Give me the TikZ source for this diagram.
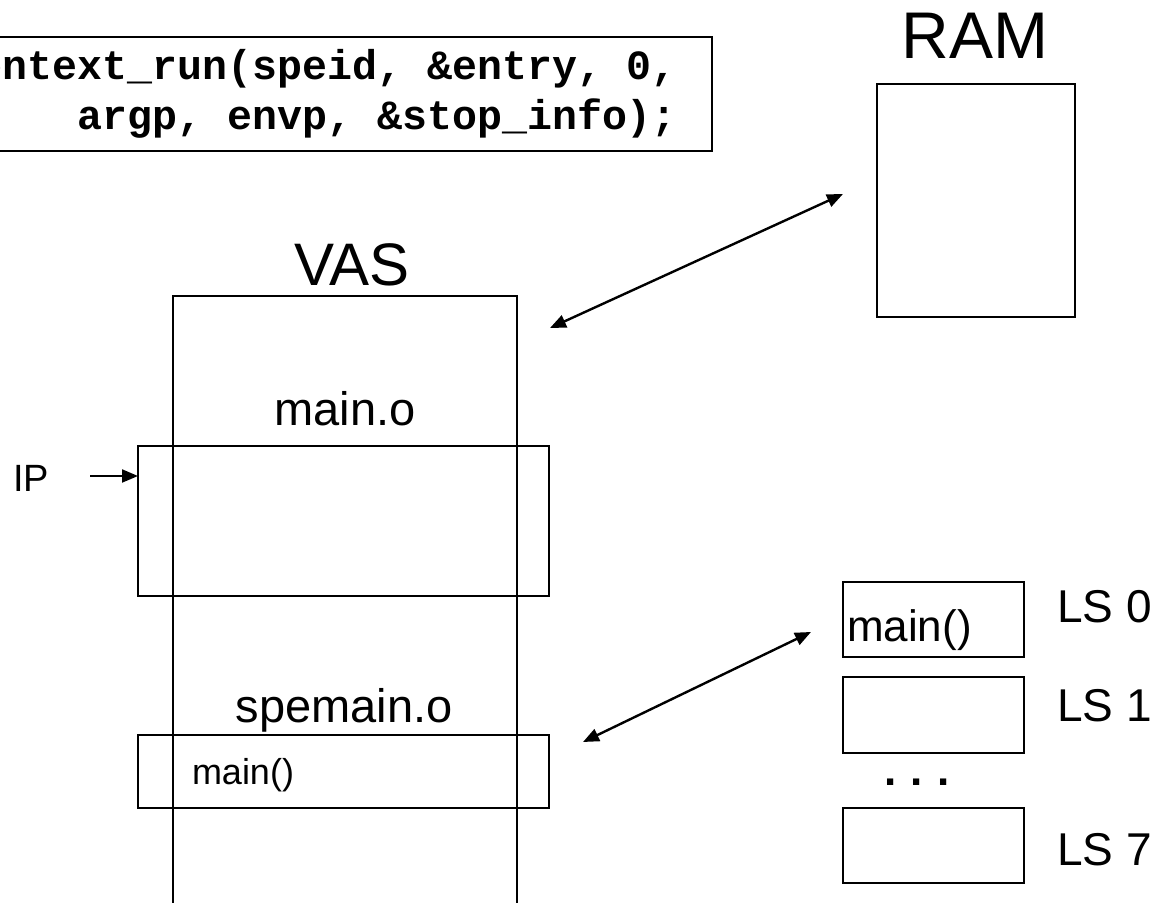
\documentclass[tikz,border=0pt]{standalone}
\usepackage{fontspec}
\setmainfont{Liberation Sans}
\setmonofont{Liberation Mono}
\usetikzlibrary{arrows.meta}

\tikzset{
  box/.style={draw,line width=1pt,inner sep=0pt,outer sep=0pt},
  lbl/.style={inner sep=0pt,outer sep=0pt},
  link/.style={line width=1.2pt,{Triangle[length=8pt,width=6.5pt]}-{Triangle[length=8pt,width=6.5pt]}}
}

\begin{document}
\begin{tikzpicture}[x=0.5pt,y=-0.5pt]
\useasboundingbox (0,0) rectangle (1169,903);
\clip (0,0) rectangle (1169,903);

% call box, cut at the left edge
\node[box,anchor=north east,align=right,minimum height=57pt,inner xsep=17.5pt,
  font=\fontsize{20.8pt}{25pt}\selectfont\ttfamily\bfseries] (call) at (712,37)
  {spe\_context\_run(speid, \&entry, 0,\\argp, envp, \&stop\_info);};

% RAM
\node[lbl,anchor=base,font=\fontsize{33pt}{36pt}\selectfont] (ramlbl) at (975,59) {RAM};
\node[box,anchor=north west,minimum width=99pt,minimum height=116.5pt] (ram) at (877,84) {};

% VAS column, runs off the bottom
\node[lbl,anchor=base,font=\fontsize{30pt}{34pt}\selectfont] (vaslbl) at (352,286) {VAS};
\node[box,line width=1.3pt,anchor=north west,minimum width=172pt,minimum height=400pt] (vas) at (173,296) {};

\node[lbl,anchor=base,font=\fontsize{23.5pt}{28pt}\selectfont] (mainlbl) at (345,426) {main.o};
\node[box,anchor=north west,minimum width=205.5pt,minimum height=75pt] (maino) at (138,446) {};

\node[lbl,anchor=base west,font=\fontsize{19pt}{22pt}\selectfont] (ip) at (13,492) {IP};
\coordinate (ipstart) at (90,476);
\draw[line width=1pt,-{Triangle[length=8pt,width=6.5pt]}] (ipstart) -- (ipstart -| maino.west);

\node[lbl,anchor=base,font=\fontsize{23.5pt}{28pt}\selectfont] (spelbl) at (344,723) {spemain.o};
\node[box,anchor=north west,minimum width=205.5pt,minimum height=36.5pt] (spemain) at (138,735) {};
\node[lbl,anchor=base west,font=\fontsize{18pt}{22pt}\selectfont] (spefn) at (192,785) {main()};

% local stores
\node[box,anchor=north west,minimum width=90.5pt,minimum height=37.5pt] (ls0) at (843,582) {};
\node[box,anchor=north west,minimum width=90.5pt,minimum height=38pt] (ls1) at (843,677) {};
\node[box,anchor=north west,minimum width=90.5pt,minimum height=37.5pt] (ls7) at (843,808) {};
\node[lbl,anchor=base west,font=\fontsize{22pt}{26pt}\selectfont] (lsfn) at (847,642) {main()};
\node[lbl,anchor=base,font=\fontsize{22pt}{26pt}\selectfont\bfseries] (dots) at (917,786) {.\,\,.\,\,.};
\node[lbl,anchor=base west,font=\fontsize{23pt}{27pt}\selectfont] (ls0lbl) at (1057,623) {LS 0};
\node[lbl,anchor=base west,font=\fontsize{23pt}{27pt}\selectfont] (ls1lbl) at (1057,722) {LS 1};
\node[lbl,anchor=base west,font=\fontsize{23pt}{27pt}\selectfont] (ls7lbl) at (1057,865) {LS 7};

% mappings
\coordinate (vasend) at (550,328);
\coordinate (ramend) at (843,194);
\coordinate (speend) at (583,742);
\coordinate (lsend) at (811,632);
\draw[link] (vasend) -- (ramend);
\draw[link] (speend) -- (lsend);
\end{tikzpicture}
\end{document}
